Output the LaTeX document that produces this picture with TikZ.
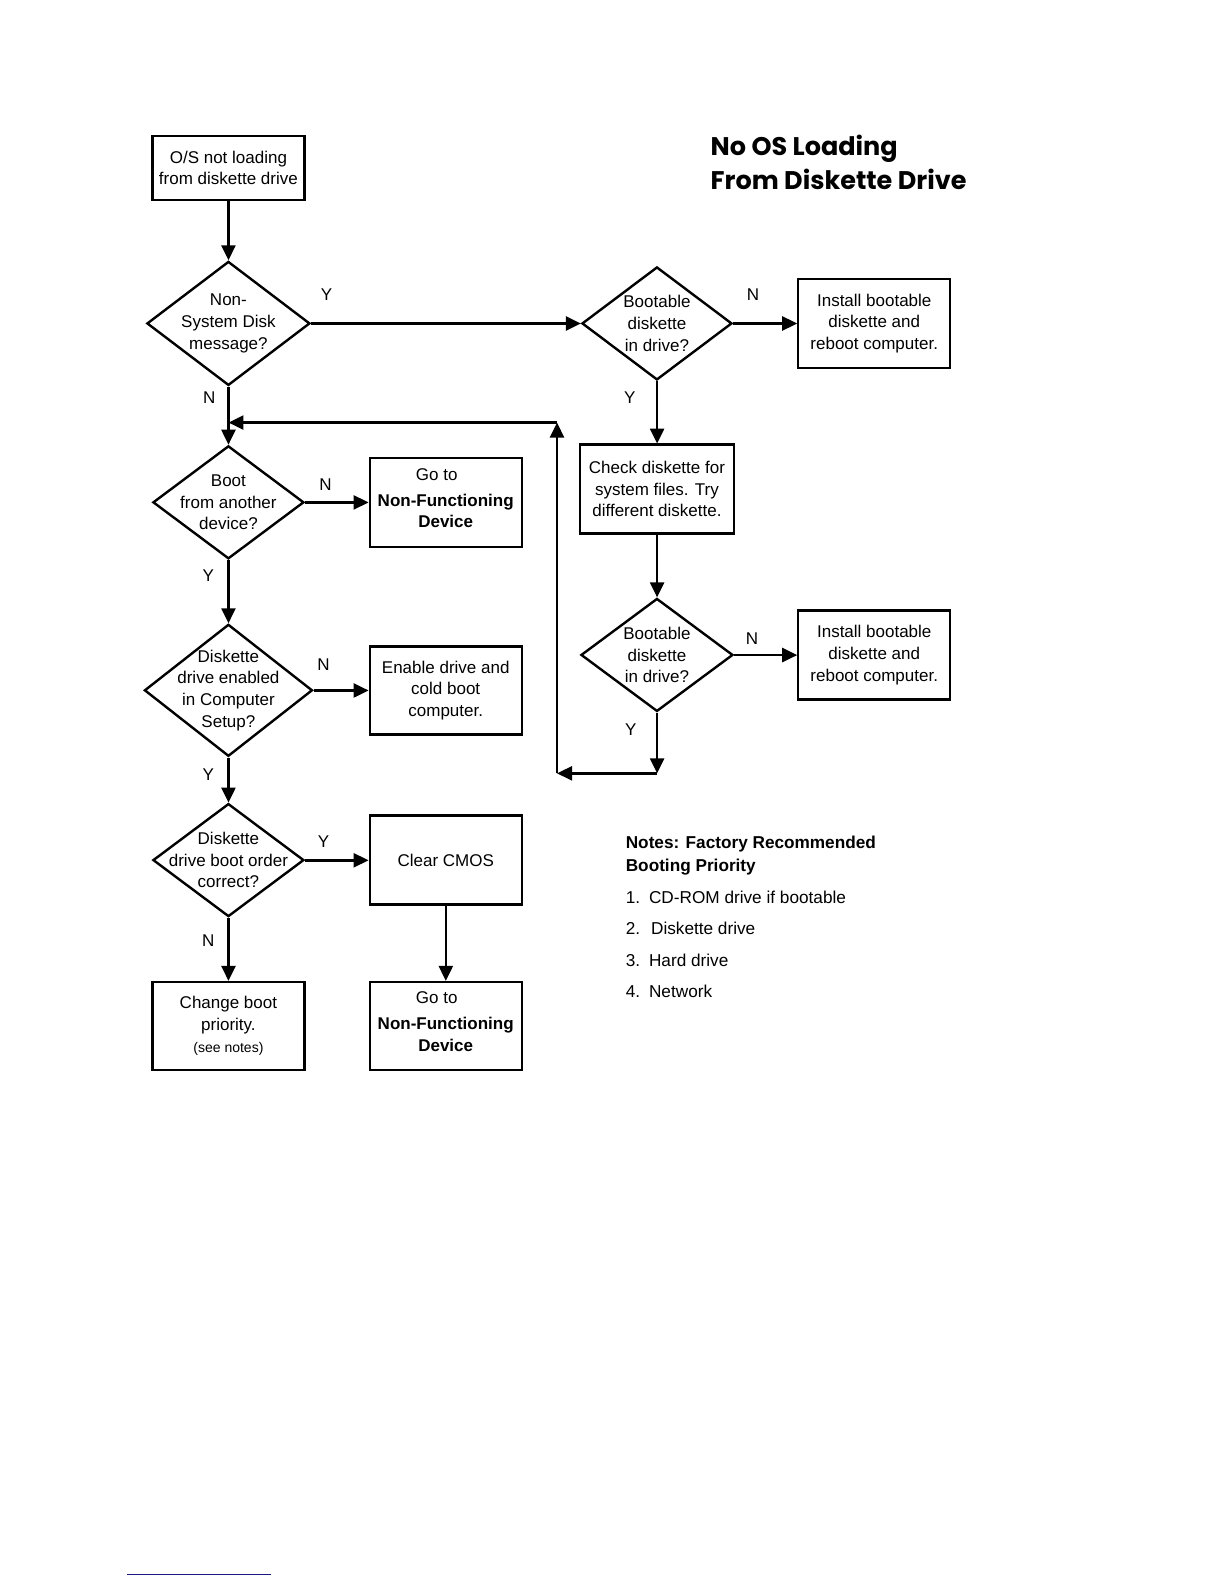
\documentclass[tikz,border=0pt]{standalone}
\usepackage{fontspec}
\setmainfont{Liberation Sans}
\newfontfamily\titlefont{Poppins}
\usetikzlibrary{shapes.geometric,arrows.meta}
\definecolor{navyline}{RGB}{25,25,140}
\begin{document}
\begin{tikzpicture}[x=1pt,y=-1pt,
 box/.style={draw, rectangle, line width=2.4pt, inner sep=0pt, align=center, minimum width=152pt, minimum height=89pt, font=\fontsize{17}{21.7}\selectfont},
 dia/.style={draw, diamond, line width=2.4pt, inner sep=0pt},
 txt/.style={align=center, inner sep=0pt, font=\fontsize{17}{21.7}\selectfont},
 lab/.style={inner sep=0pt, font=\fontsize{17}{18}\selectfont},
 arr/.style={-{Triangle[length=15pt,width=14pt]}, line width=2.4pt},
 ttl/.style={inner sep=0pt, anchor=base west, font=\titlefont\bfseries\fontsize{25.5}{30}\selectfont},
 note/.style={inner sep=0pt, anchor=base west, font=\fontsize{17.2}{18}\selectfont},
]
\useasboundingbox (0,0) rectangle (1224,1584);
\begin{scope}[scale=1.0107]
% title
\node[ttl] (t1) at (703,154) {No OS Loading};
\node[ttl] (t2) at (703,187) {From Diskette Drive};

% nodes
\node[box, minimum height=64pt] (b1) at (226,166) {O/S not loading\\from diskette drive};

\node[dia, minimum width=163pt, minimum height=124pt] (d1) at (226,320) {};
\node[txt] (d1t) at (226,320) {Non-\\System Disk\\message?};

\node[dia, minimum width=150pt, minimum height=113pt] (d2) at (650,320) {};
\node[txt] (d2t) at (650,320) {Bootable\\diskette\\in drive?};

\node[box] (b2) at (865,320) {Install bootable\\diskette and\\reboot computer.};

\node[box, minimum width=154pt] (b3) at (650,484) {Check diskette for\\system files. Try\\different diskette.};

\node[dia, minimum width=152pt, minimum height=113pt] (d3) at (650,648) {};
\node[txt] (d3t) at (650,648) {Bootable\\diskette\\in drive?};

\node[box] (b4) at (865,648) {Install bootable\\diskette and\\reboot computer.};

\node[dia, minimum width=151pt, minimum height=113pt] (d4) at (226,497) {};
\node[txt] (d4t) at (226,497) {Boot\\from another\\device?};

\node[box] (b5) at (441,497) {};
\node[txt] (b5t) at (441,493) {\hspace*{-18pt}Go to\\[4pt]\textbf{Non-Functioning}\\\textbf{Device}};

\node[dia, minimum width=168pt, minimum height=132pt] (d5) at (226,683) {};
\node[txt] (d5t) at (226,683) {Diskette\\drive enabled\\in Computer\\Setup?};

\node[box, minimum height=88pt] (b6) at (441,683) {Enable drive and\\cold boot\\computer.};

\node[dia, minimum width=151pt, minimum height=113pt] (d6) at (226,851) {};
\node[txt] (d6t) at (226,851) {Diskette\\drive boot order\\correct?};

\node[box] (b7) at (441,851) {Clear CMOS};

\node[box, minimum height=88pt] (b8) at (226,1015) {};
\node[txt] (b8t) at (226,1015) {Change boot\\priority.\\{\fontsize{14}{16}\selectfont(see notes)}};

\node[box, minimum height=88pt] (b9) at (441,1015) {};
\node[txt] (b9t) at (441,1011) {\hspace*{-18pt}Go to\\[4pt]\textbf{Non-Functioning}\\\textbf{Device}};

% coordinates for loop
\coordinate (c1) at (650,765);
\coordinate (c2) at (551,765);
\coordinate (c3) at (551,418);
\coordinate (c4) at (226,418);

% connectors
\draw[arr] (b1.south) -- (d1.north);
\draw[arr] (d1.east) -- (d2.west);
\draw[arr] (d2.east) -- (b2.west);
\draw[arr] (d2.south) -- (b3.north);
\draw[arr] (b3.south) -- (d3.north);
\draw[arr] (d3.east) -- (b4.west);
\draw[arr] (d3.south) -- (c1);
\draw[arr] (c1) -- (c2);
\draw[arr] (c2) -- (c3);
\draw[arr] (c3) -- (c4);
\draw[arr] (d1.south) -- (d4.north);
\draw[arr] (d4.east) -- (b5.west);
\draw[arr] (d4.south) -- (d5.north);
\draw[arr] (d5.east) -- (b6.west);
\draw[arr] (d5.south) -- (d6.north);
\draw[arr] (d6.east) -- (b7.west);
\draw[arr] (d6.south) -- (b8.north);
\draw[arr] (b7.south) -- (b9.north);

% labels
\node[lab] at (323,292) {Y};
\node[lab] at (207,393) {N};
\node[lab] at (745,292) {N};
\node[lab] at (623,393) {Y};
\node[lab] at (744,632) {N};
\node[lab] at (624,722) {Y};
\node[lab] at (322,480) {N};
\node[lab] at (206,570) {Y};
\node[lab] at (320,658) {N};
\node[lab] at (206,766) {Y};
\node[lab] at (320,833) {Y};
\node[lab] at (206,931) {N};

% notes
\node[note, font=\bfseries\fontsize{17.2}{18}\selectfont] (n1) at (619,840) {Notes: Factory Recommended};
\node[note, font=\bfseries\fontsize{17.2}{18}\selectfont] (n2) at (619,862) {Booting Priority};
\node[note] (l1) at (619,894) {1.};
\node[note] (l1t) at (642,894) {CD-ROM drive if bootable};
\node[note] (l2) at (619,925) {2.};
\node[note] (l2t) at (644,925) {Diskette drive};
\node[note] (l3) at (619,956) {3.};
\node[note] (l3t) at (642,956) {Hard drive};
\node[note] (l4) at (619,987) {4.};
\node[note] (l4t) at (642,987) {Network};

% footer line
\draw[navyline, line width=1.5pt] (126,1558) -- (268,1558);
\end{scope}
\end{tikzpicture}
\end{document}
